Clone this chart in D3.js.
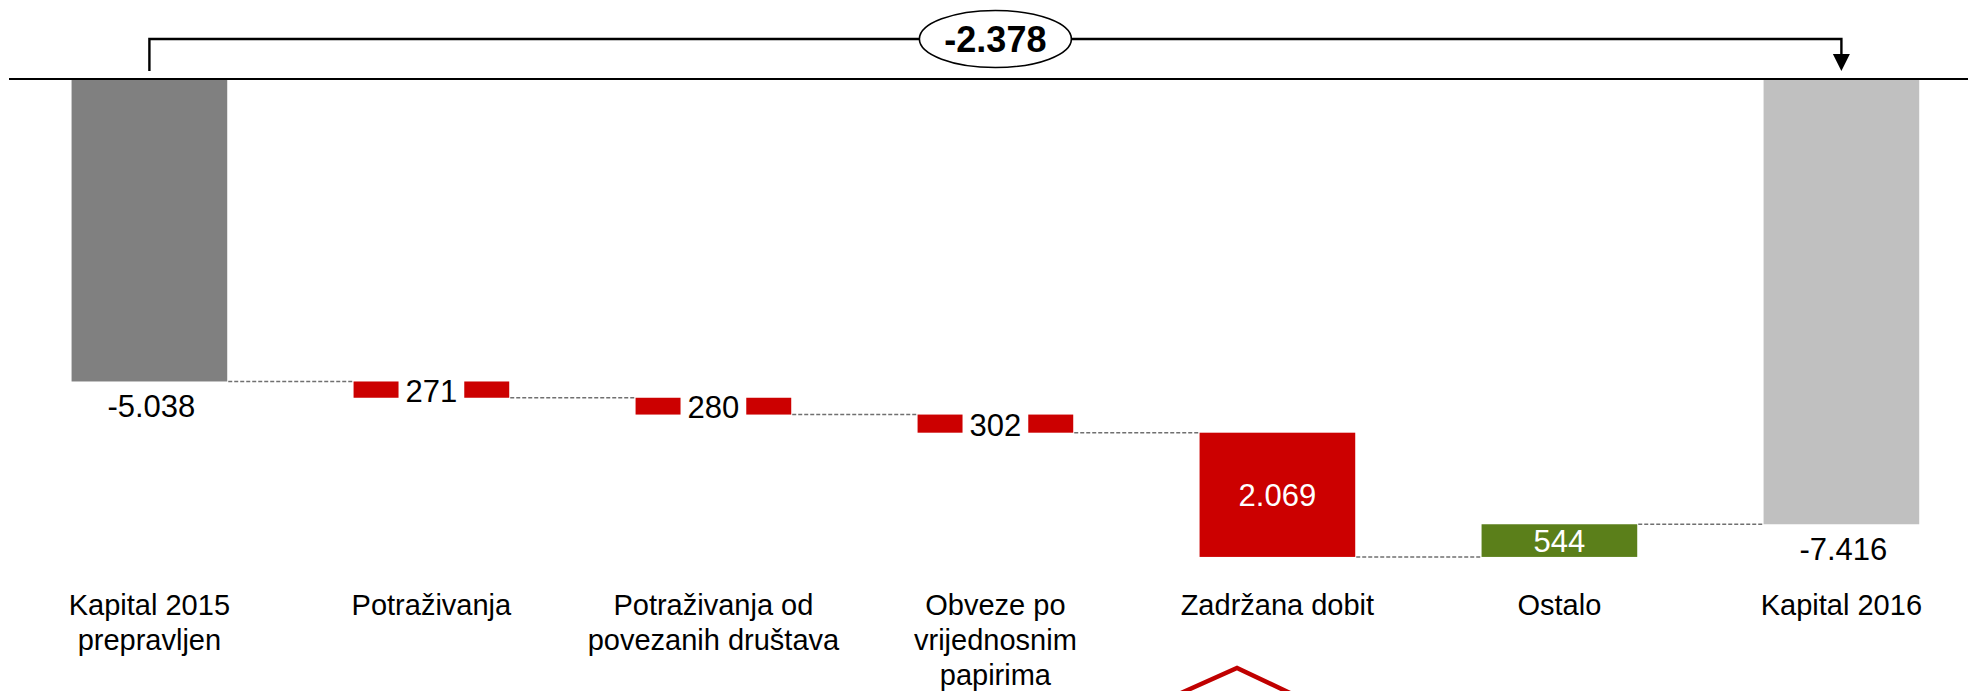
<!DOCTYPE html>
<html>
<head>
<meta charset="utf-8">
<script src="https://cdn.jsdelivr.net/npm/d3@7/dist/d3.min.js"></script>
<style>
  html, body { margin: 0; padding: 0; background: #ffffff; }
  svg { display: block; }
  text { font-family: "Liberation Sans", Arial, sans-serif; }
</style>
</head>
<body>
<svg id="chart" width="1968" height="691"></svg>
<script>
// ---- data ----
const categories = [
  "Kapital 2015 prepravljen",
  "Potraživanja",
  "Potraživanja od povezanih društava",
  "Obveze po vrijednosnim papirima",
  "Zadržana dobit",
  "Ostalo",
  "Kapital 2016"
];
const categoryLines = [
  ["Kapital 2015", "prepravljen"],
  ["Potraživanja"],
  ["Potraživanja od", "povezanih društava"],
  ["Obveze po", "vrijednosnim", "papirima"],
  ["Zadržana dobit"],
  ["Ostalo"],
  ["Kapital 2016"]
];
// type: "total" = absolute value, "delta" = change to running total
const types  = ["total", "delta", "delta", "delta", "delta", "delta", "total"];
const values = [-5038, -271, -280, -302, -2069, 544, -7416];
const colors = ["#808080", "#cc0000", "#cc0000", "#cc0000", "#cc0000", "#5b7f1a", "#c0c0c0"];
const totalDifference = -2378;

// ---- layout ----
const svg = d3.select("#chart");
const W = 1968, H = 691;
const axisY = 79;

const x = d3.scaleBand()
  .domain(categories)
  .range([8.4, 1982.4])
  .paddingInner(0.448)
  .paddingOuter(0.224);

const y = d3.scaleLinear()
  .domain([0, -10000])
  .range([axisY, axisY + 600.4]);

const loc = d3.formatLocale({decimal: ",", thousands: ".", grouping: [3], currency: ["", " kn"], minus: "-"});
const fmt = loc.format(",d");

// compute bar extents
let running = 0;
const bars = categories.map((c, i) => {
  let start, end;
  if (types[i] === "total") { start = 0; end = values[i]; running = values[i]; }
  else { start = running; end = running + values[i]; running = end; }
  return {cat: c, i, start, end, running, value: values[i], type: types[i], color: colors[i]};
});

const bw = x.bandwidth();

// connectors
const conn = svg.append("g");
for (let i = 0; i < bars.length - 1; i++) {
  const b = bars[i], n = bars[i + 1];
  conn.append("line")
    .attr("x1", x(b.cat) + bw + 1)
    .attr("x2", x(n.cat) - 1)
    .attr("y1", y(b.running))
    .attr("y2", y(b.running))
    .attr("stroke", "#707070")
    .attr("stroke-width", 1.5)
    .attr("stroke-dasharray", "4,2");
}

// bars
const g = svg.append("g");
g.selectAll("rect.bar")
  .data(bars)
  .join("rect")
  .attr("class", "bar")
  .attr("x", d => x(d.cat))
  .attr("width", bw)
  .attr("y", d => Math.min(y(d.start), y(d.end)))
  .attr("height", d => Math.abs(y(d.end) - y(d.start)))
  .attr("fill", d => d.color);

// value labels
bars.forEach(d => {
  const cx = x(d.cat) + bw / 2;
  const top = Math.min(y(d.start), y(d.end));
  const bot = Math.max(y(d.start), y(d.end));
  const h = bot - top;
  if (d.type === "total") {
    svg.append("text")
      .attr("x", cx + 2)
      .attr("y", bot + 36)
      .attr("text-anchor", "middle")
      .attr("font-size", 31)
      .attr("fill", "#000")
      .text(fmt(d.value));
  } else if (h < 25) {
    const t = svg.append("text")
      .attr("x", cx)
      .attr("y", (top + bot) / 2)
      .attr("dy", "0.39em")
      .attr("text-anchor", "middle")
      .attr("font-size", 31)
      .attr("fill", "#000")
      .text(fmt(Math.abs(d.value)));
    const tw = t.node().getComputedTextLength();
    svg.insert("rect", "text")
      .attr("x", cx - tw / 2 - 7)
      .attr("width", tw + 14)
      .attr("y", top - 1)
      .attr("height", h + 2)
      .attr("fill", "#ffffff");
  } else {
    svg.append("text")
      .attr("x", cx)
      .attr("y", (top + bot) / 2)
      .attr("dy", "0.37em")
      .attr("text-anchor", "middle")
      .attr("font-size", 31)
      .attr("fill", "#ffffff")
      .text(fmt(Math.abs(d.value)));
  }
});

// category labels
categoryLines.forEach((lines, i) => {
  const cx = x(categories[i]) + bw / 2;
  const t = svg.append("text")
    .attr("text-anchor", "middle")
    .attr("font-size", 29)
    .attr("fill", "#000");
  lines.forEach((ln, k) => {
    t.append("tspan").attr("x", cx).attr("y", 615 + k * 35).text(ln);
  });
});

// axis line
svg.append("line")
  .attr("x1", 9).attr("x2", W)
  .attr("y1", axisY).attr("y2", axisY)
  .attr("stroke", "#000").attr("stroke-width", 2.2);

// difference bracket
const x0 = x(categories[0]) + bw / 2;
const x6 = x(categories[6]) + bw / 2;
const by = 39;
svg.append("path")
  .attr("d", `M${x0},${axisY - 8} V${by} H${x6} V${axisY - 24}`)
  .attr("fill", "none")
  .attr("stroke", "#000")
  .attr("stroke-width", 2.4);
svg.append("path")
  .attr("d", `M${x6 - 8.5},${axisY - 25} L${x6 + 8.5},${axisY - 25} L${x6},${axisY - 8} Z`)
  .attr("fill", "#000");
const mx = (x0 + x6) / 2;
svg.append("ellipse")
  .attr("cx", mx).attr("cy", by)
  .attr("rx", 76).attr("ry", 28.5)
  .attr("fill", "#fff")
  .attr("stroke", "#000")
  .attr("stroke-width", 1.6);
svg.append("text")
  .attr("x", mx).attr("y", by)
  .attr("dy", "0.36em")
  .attr("text-anchor", "middle")
  .attr("font-size", 36)
  .attr("font-weight", "bold")
  .attr("fill", "#000")
  .text(fmt(totalDifference));

// decorative red chevron at bottom
svg.append("path")
  .attr("d", "M1181,693 L1237,668 L1290,693")
  .attr("fill", "none")
  .attr("stroke", "#c00000")
  .attr("stroke-width", 4.5);
</script>
</body>
</html>
